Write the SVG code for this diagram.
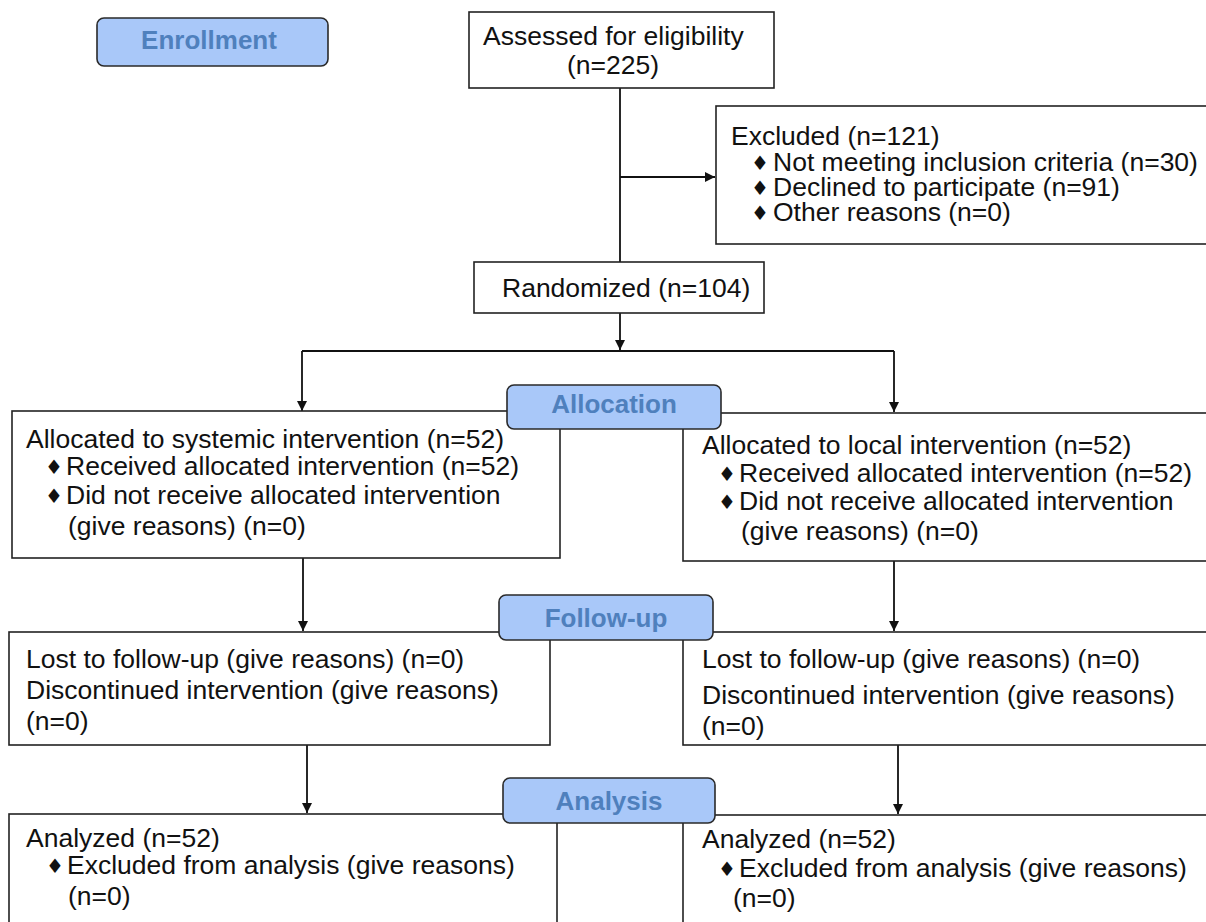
<svg xmlns="http://www.w3.org/2000/svg" width="1206" height="922" viewBox="0 0 1206 922">
<defs>
<style>
.box{fill:#ffffff;stroke:#222222;stroke-width:1.6}
.lbl{fill:#a9c8f9;stroke:#2a2a2a;stroke-width:1.6}
.lt{font-family:"Liberation Sans",Arial,sans-serif;font-size:26px;font-weight:bold;fill:#4f80bd;text-anchor:middle}
.t{font-family:"Liberation Sans",Arial,sans-serif;font-size:26.5px;fill:#111111}
.d{font-family:"DejaVu Sans",sans-serif;font-size:20px;fill:#111111}
.c{fill:none;stroke:#111111;stroke-width:1.8}
</style>
<marker id="ah" viewBox="0 0 10 10" refX="10" refY="5" markerWidth="11" markerHeight="10" markerUnits="userSpaceOnUse" orient="auto">
<path d="M0,0 L10,5 L0,10 z" fill="#111111"/>
</marker>
</defs>
<rect width="1206" height="922" fill="#ffffff"/>

<g id="connectors">
<path class="c" d="M620,88 V262"/>
<path class="c" d="M620,177 H715" marker-end="url(#ah)"/>
<path class="c" d="M620,313 V350" marker-end="url(#ah)"/>
<path class="c" d="M302,351 H894"/>
<path class="c" d="M302,351 V411" marker-end="url(#ah)"/>
<path class="c" d="M894,351 V412" marker-end="url(#ah)"/>
<path class="c" d="M303,558 V631" marker-end="url(#ah)"/>
<path class="c" d="M894,561 V631" marker-end="url(#ah)"/>
<path class="c" d="M307,745 V813" marker-end="url(#ah)"/>
<path class="c" d="M898,745 V814" marker-end="url(#ah)"/>
</g>

<g id="enrollment">
<rect class="lbl" x="97" y="18" width="231" height="48" rx="7"/>
<text class="lt" x="209" y="49">Enrollment</text>
</g>

<g id="assessed">
<rect class="box" x="469" y="12" width="305" height="76"/>
<text class="t" x="483" y="45">Assessed for eligibility</text>
<text class="t" x="567" y="74">(n=225)</text>
</g>

<g id="excluded">
<rect class="box" x="716" y="106" width="500" height="138"/>
<text class="t" x="731" y="145">Excluded (n=121)</text>
<text class="d" x="751" y="170">♦</text><text class="t" x="773" y="171">Not meeting inclusion criteria (n=30)</text>
<text class="d" x="751" y="195">♦</text><text class="t" x="773" y="196">Declined to participate (n=91)</text>
<text class="d" x="751" y="220">♦</text><text class="t" x="773" y="221">Other reasons (n=0)</text>
</g>

<g id="randomized">
<rect class="box" x="474" y="262" width="290" height="51"/>
<text class="t" x="502" y="297">Randomized (n=104)</text>
</g>

<g id="alloc-left">
<rect class="box" x="12" y="411" width="548" height="147"/>
<text class="t" x="26" y="448">Allocated to systemic intervention (n=52)</text>
<text class="d" x="45" y="474">♦</text><text class="t" x="66" y="475">Received allocated intervention (n=52)</text>
<text class="d" x="45" y="503">♦</text><text class="t" x="66" y="504">Did not receive allocated intervention</text>
<text class="t" x="68" y="535">(give reasons) (n=0)</text>
</g>

<g id="alloc-right">
<rect class="box" x="683" y="413" width="540" height="148"/>
<text class="t" x="702" y="454">Allocated to local intervention (n=52)</text>
<text class="d" x="718" y="481">♦</text><text class="t" x="739" y="482">Received allocated intervention (n=52)</text>
<text class="d" x="718" y="509">♦</text><text class="t" x="739" y="510">Did not receive allocated intervention</text>
<text class="t" x="741" y="540">(give reasons) (n=0)</text>
</g>

<g id="allocation">
<rect class="lbl" x="507" y="385" width="214" height="44" rx="7"/>
<text class="lt" x="614" y="413">Allocation</text>
</g>

<g id="followup-left">
<rect class="box" x="9" y="632" width="541" height="113"/>
<text class="t" x="26" y="668">Lost to follow-up (give reasons) (n=0)</text>
<text class="t" x="26" y="699">Discontinued intervention (give reasons)</text>
<text class="t" x="26" y="730">(n=0)</text>
</g>

<g id="followup-right">
<rect class="box" x="683" y="632" width="540" height="113"/>
<text class="t" x="702" y="668">Lost to follow-up (give reasons) (n=0)</text>
<text class="t" x="702" y="704">Discontinued intervention (give reasons)</text>
<text class="t" x="702" y="735">(n=0)</text>
</g>

<g id="followup">
<rect class="lbl" x="499" y="595" width="214" height="45" rx="7"/>
<text class="lt" x="606" y="627">Follow-up</text>
</g>

<g id="analysis-left">
<rect class="box" x="9" y="814" width="548" height="130"/>
<text class="t" x="26" y="847">Analyzed (n=52)</text>
<text class="d" x="46" y="873">♦</text><text class="t" x="67" y="874">Excluded from analysis (give reasons)</text>
<text class="t" x="68" y="905">(n=0)</text>
</g>

<g id="analysis-right">
<rect class="box" x="683" y="815" width="540" height="130"/>
<text class="t" x="702" y="848">Analyzed (n=52)</text>
<text class="d" x="718" y="876">♦</text><text class="t" x="739" y="877">Excluded from analysis (give reasons)</text>
<text class="t" x="733" y="907">(n=0)</text>
</g>

<g id="analysis">
<rect class="lbl" x="503" y="778" width="212" height="45" rx="7"/>
<text class="lt" x="609" y="810">Analysis</text>
</g>
</svg>
